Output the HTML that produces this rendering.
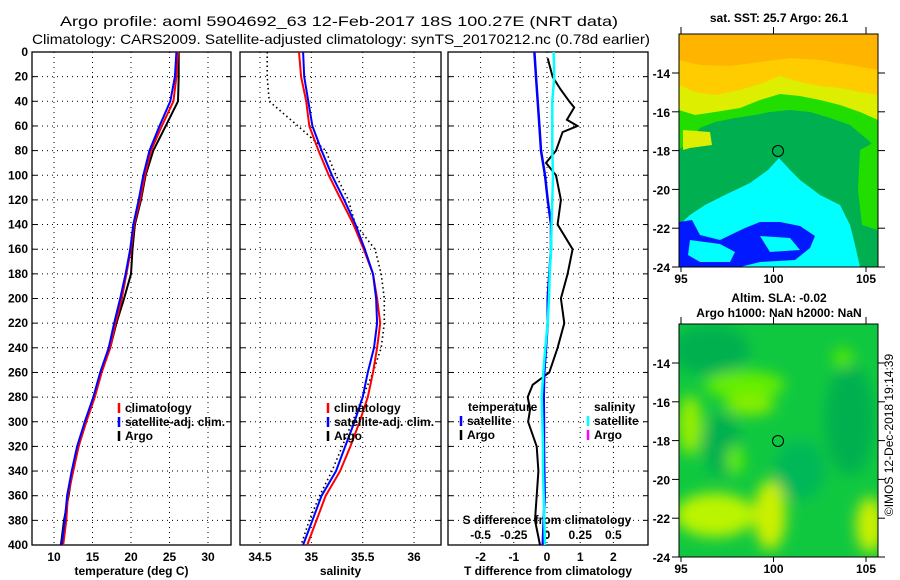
<!DOCTYPE html>
<html><head><meta charset="utf-8"><style>
body{margin:0;background:#fff;overflow:hidden}
svg{display:block;font-family:"Liberation Sans",Arial,sans-serif}
.t{font-size:12px;font-weight:bold;fill:#000}
</style></head><body>
<svg id="c" width="900" height="580" viewBox="0 0 900 580">
<defs>
<filter id="bl" x="-20%" y="-20%" width="140%" height="140%"><feGaussianBlur stdDeviation="7"/></filter>
<clipPath id="m1c"><rect x="679" y="34" width="199" height="233"/></clipPath>
<clipPath id="m2c"><rect x="679" y="324" width="199" height="233"/></clipPath>
</defs>
<text x="60" y="26" font-size="14" textLength="558" lengthAdjust="spacingAndGlyphs">Argo profile: aoml 5904692_63 12-Feb-2017 18S 100.27E (NRT data)</text>
<text x="32" y="44" font-size="14" textLength="618" lengthAdjust="spacingAndGlyphs">Climatology: CARS2009. Satellite-adjusted climatology: synTS_20170212.nc (0.78d earlier)</text>
<g id="panels"></g>

<!-- Map 1 -->
<g>
<text x="779" y="22" class="t" text-anchor="middle">sat. SST: 25.7 Argo: 26.1</text>
<g clip-path="url(#m1c)">
<rect x="679" y="34" width="199" height="233" fill="#00b050"/>
<polygon points="679,34 878,34 878,150 868,140 850,125 830,118 810,112 790,110 770,112 755,115 735,118 715,122 700,128 690,140 679,150" fill="#22dd00"/>
<polygon points="679,34 878,34 878,120 860,112 840,105 820,100 800,96 780,94 760,100 740,108 715,112 695,115 679,110" fill="#ddee00"/>
<polygon points="679,34 878,34 878,95 860,92 840,88 820,86 800,82 780,76 760,84 740,90 715,95 695,92 679,85" fill="#ffcc00"/>
<polygon points="679,34 878,34 878,70 850,65 820,60 790,58 760,62 730,66 700,65 679,60" fill="#ffb400"/>
<polygon points="683,130 710,132 712,145 690,148 683,150" fill="#ddee00"/>
<polygon points="860,150 878,140 878,230 862,225 858,190" fill="#22dd00"/>
<polygon points="779,158 790,170 800,180 820,195 840,205 850,225 855,245 860,267 679,267 679,225 690,215 705,205 725,195 750,183 768,170" fill="#00ffff"/>
<polygon points="679,222 692,220 700,235 720,240 745,228 760,222 780,222 800,226 815,236 810,248 795,260 760,262 740,267 679,267" fill="#0000ff" opacity="0.9"/>
<polygon points="690,240 720,244 735,252 730,262 700,262 688,255" fill="#00ffff"/>
<polygon points="760,236 790,238 800,250 770,252" fill="#00ffff"/>
</g>
<rect x="679" y="34" width="199" height="233" fill="none" stroke="#000"/>
<circle cx="778" cy="151" r="5.5" fill="none" stroke="#000"/>
</g>

<!-- Map 2 -->
<g>
<text x="779" y="302" class="t" text-anchor="middle">Altim. SLA: -0.02</text>
<text x="779" y="317" class="t" text-anchor="middle">Argo h1000: NaN h2000: NaN</text>
<g clip-path="url(#m2c)">
<rect x="679" y="324" width="199" height="233" fill="#10c840"/>
<g filter="url(#bl)">
<ellipse cx="710" cy="350" rx="40" ry="25" fill="#00b050"/>
<ellipse cx="722" cy="445" rx="18" ry="32" fill="#00b050"/>
<ellipse cx="850" cy="420" rx="25" ry="55" fill="#00b050"/>
<ellipse cx="800" cy="470" rx="25" ry="30" fill="#00b858"/>
<ellipse cx="745" cy="385" rx="40" ry="14" fill="#66ee00"/>
<ellipse cx="750" cy="405" rx="25" ry="10" fill="#88ee00"/>
<ellipse cx="690" cy="425" rx="12" ry="30" fill="#99ee00"/>
<ellipse cx="715" cy="515" rx="40" ry="22" fill="#bbf400"/>
<ellipse cx="770" cy="515" rx="16" ry="35" fill="#ccf000"/>
<ellipse cx="870" cy="525" rx="14" ry="28" fill="#ccf000"/>
<ellipse cx="843" cy="358" rx="10" ry="10" fill="#55e800"/>
<ellipse cx="735" cy="460" rx="8" ry="15" fill="#66ee00"/>
</g>
</g>
<rect x="679" y="324" width="199" height="233" fill="none" stroke="#000"/>
<circle cx="778" cy="441" r="5.5" fill="none" stroke="#000"/>
</g>
<text transform="translate(893,435) rotate(-90)" text-anchor="middle" font-size="12">©IMOS 12-Dec-2018 19:14:39</text>
<g id="maps-axes"></g>
</svg>
<script>
// ---- data ----
const depths = [0,20,40,60,80,100,120,140,160,180,200,220,240,260,280,300,320,340,360,380,400];
const tempClim = [26.1,25.9,25.5,24.0,22.6,21.8,21.2,20.4,20.0,19.4,18.8,18.0,17.3,16.2,15.3,14.2,13.2,12.5,11.8,11.6,11.2];
const tempSat = [25.9,25.7,25.1,23.7,22.4,21.6,21.0,20.3,19.9,19.3,18.6,17.8,17.1,16.0,15.1,14.0,13.0,12.3,11.7,11.4,11.0];
const tempArgo = [26.2,26.2,26.1,24.5,22.9,21.9,21.3,20.5,20.2,20.0,19.1,18.1,17.3,16.1,15.2,14.0,13.2,12.4,11.9,11.3,10.9];
const salClim = [34.88,34.90,34.95,34.98,35.07,35.17,35.29,35.41,35.51,35.60,35.64,35.67,35.64,35.60,35.55,35.47,35.38,35.28,35.14,35.05,34.96];
const salSat = [34.92,34.93,34.97,35.01,35.10,35.20,35.32,35.43,35.52,35.60,35.63,35.64,35.61,35.55,35.50,35.42,35.33,35.24,35.10,35.01,34.92];
const salArgo = [34.57,34.57,34.59,34.87,35.14,35.24,35.36,35.43,35.62,35.68,35.71,35.71,35.68,35.60,35.50,35.40,35.30,35.20,35.08,34.98,34.90];
const tDiffSat = [-0.38,-0.33,-0.28,-0.23,-0.18,-0.06,0.02,0.12,0.12,0.07,0.02,0.02,-0.03,-0.08,-0.10,-0.09,-0.09,-0.08,-0.07,-0.10,-0.13];
const sDiffSat = [0.05,0.055,0.04,0.04,0.04,0.045,0.04,0.035,0.03,0.02,0.015,0.005,-0.013,-0.028,-0.04,-0.035,-0.03,-0.03,-0.025,-0.02,-0.015];
const argoDiffDepths = [5,20,30,40,45,55,60,65,80,90,100,120,140,160,180,200,220,240,260,270,280,290,300,320,340,360,380,400];
const tDiffArgo = [0.02,0.17,0.4,0.67,0.82,0.6,0.92,0.47,0.27,-0.03,0.27,0.42,0.32,0.77,0.62,0.42,0.52,0.32,0.07,-0.43,-0.58,-0.51,-0.57,-0.31,-0.26,-0.31,-0.36,-0.21];
const depthTicks = [0,20,40,60,80,100,120,140,160,180,200,220,240,260,280,300,320,340,360,380,400];
const tempTicks = [10,15,20,25,30];
const salTicks = [34.5,35,35.5,36];
const tdTicks = [-2,-1,0,1,2];
const sdTicks = [-0.5,-0.25,0,0.25,0.5];
const sdTickLabels = ["-0.5","-0.25","0","0.25","0.5"];
const latTicks = [-14,-16,-18,-20,-22,-24];
const lonTicks = [95,100,105];

const NS = "http://www.w3.org/2000/svg";
const Y0 = 52, Y1 = 545;
const yScale = d => Y0 + (d/400)*(Y1-Y0);
function mk(tag, attrs, parent){const e=document.createElementNS(NS,tag);for(const k in attrs)e.setAttribute(k,attrs[k]);parent.appendChild(e);return e;}
const G = document.getElementById('panels');

function panel(name, x0, x1, xScale, ticks, labels, title, showY){
  const g = mk('g',{},G);
  
  
  depthTicks.forEach(d=>{
    const y=yScale(d);
    const l=mk('line',{x1:x0,x2:x1,y1:y,y2:y,stroke:'#000','stroke-dasharray':'1,4','stroke-width':1},g);
    
    
    mk('line',{x1:x0,x2:x0+5,y1:y,y2:y,stroke:'#000'},g);
    mk('line',{x1:x1-5,x2:x1,y1:y,y2:y,stroke:'#000'},g);
    if(showY){const t=mk('text',{x:28,y:y+4,'text-anchor':'end',class:'t'},g);t.textContent=d;
      
      }
  });
  ticks.forEach((v,i)=>{
    const x=xScale(v);
    const l=mk('line',{x1:x,x2:x,y1:Y0,y2:Y1,stroke:'#000','stroke-dasharray':'1,4'},g);
    
    
    const t=mk('text',{x:x,y:561,'text-anchor':'middle',class:'t'},g);t.textContent=labels[i];
    
    
  });
  const f=mk('rect',{x:x0,y:Y0,width:x1-x0,height:Y1-Y0,fill:'none',stroke:'#000','stroke-width':1.3},g);
  
  
  const tt=mk('text',{x:(x0+x1)/2,y:575,'text-anchor':'middle',class:'t'},g);tt.textContent=title;
  
  
  return g;
}
function line(g, name, xs, ds, xScale, color, w, dash){
  const pts = xs.map((v,i)=>xScale(v).toFixed(1)+','+yScale(ds[i]).toFixed(1)).join(' ');
  const p=mk('polyline',{points:pts,fill:'none',stroke:color,'stroke-width':w},g);
  if(dash)p.setAttribute('stroke-dasharray',dash);
  
  
}
function legend(g, x, y, color, label){
  mk('line',{x1:x,x2:x,y1:y-9,y2:y+1,stroke:color,'stroke-width':2.5},g);
  const t=mk('text',{x:x+6,y:y,class:'t'},g);t.textContent=label;
  
  
}
// Panel 1
const xT = v => 54 + (v-10)*7.7;
const p1 = panel('temperature-panel',32,231,xT,tempTicks,tempTicks.map(String),'temperature (deg C)',true);
line(p1,'temp-argo-line',tempArgo,depths,xT,'#000',2);
line(p1,'temp-climatology-line',tempClim,depths,xT,'#ff0000',2);
line(p1,'temp-satellite-line',tempSat,depths,xT,'#0000ff',2);
legend(p1,119,412,'#ff0000','climatology');
legend(p1,119,426,'#0000ff','satellite-adj. clim.');
legend(p1,119,440,'#000','Argo');
// Panel 2
const xS = v => 260 + (v-34.5)*102.7;
const p2 = panel('salinity-panel',240,441,xS,salTicks,salTicks.map(String),'salinity',false);
line(p2,'sal-argo-line',salArgo,depths,xS,'#000',1.6,'1.5,3');
line(p2,'sal-climatology-line',salClim,depths,xS,'#ff0000',2);
line(p2,'sal-satellite-line',salSat,depths,xS,'#0000ff',2);
legend(p2,328,412,'#ff0000','climatology');
legend(p2,328,426,'#0000ff','satellite-adj. clim.');
legend(p2,328,440,'#000','Argo');
// Panel 3
const xD = v => 547 + v*33.2;
const xSD = v => 547 + v*132.8;
const p3 = panel('difference-panel',448,648,xD,tdTicks,tdTicks.map(String),'T difference from climatology',false);
sdTicks.forEach((v,i)=>{const t=mk('text',{x:xSD(v),y:539,'text-anchor':'middle',class:'t'},p3);t.textContent=sdTickLabels[i];
  
  });
const st=mk('text',{x:547,y:524,'text-anchor':'middle',class:'t'},p3);st.textContent='S difference from climatology';


line(p3,'t-diff-argo-line',tDiffArgo,argoDiffDepths,xD,'#000',2);
line(p3,'t-diff-satellite-line',tDiffSat,depths,xD,'#0000ff',2.5);
line(p3,'s-diff-satellite-line',sDiffSat,depths,xSD,'#00ffff',2.5);
const lt=mk('text',{x:468,y:411,class:'t'},p3);lt.textContent='temperature';


const ls=mk('text',{x:594,y:411,class:'t'},p3);ls.textContent='salinity';


legend(p3,461,425,'#0000ff','satellite');
legend(p3,461,439,'#000','Argo');
legend(p3,588,425,'#00ffff','satellite');
legend(p3,588,439,'#ff00ff','Argo');
// Map axes
const MA = document.getElementById('maps-axes');
const lonX = v => 681 + (v-95)*18.5;
[[34,267],[324,557]].forEach(([top,bot],k)=>{
  const latY = v => bot - (v+24)*19.4;
  latTicks.forEach(v=>{const y=latY(v);
    mk('line',{x1:672,x2:679,y1:y,y2:y,stroke:'#000'},MA);
    mk('line',{x1:878,x2:885,y1:y,y2:y,stroke:'#000'},MA);
    const t=mk('text',{x:670,y:y+5,'text-anchor':'end',class:'t','font-size':13},MA);t.textContent=v;
    
    });
  lonTicks.forEach(v=>{const x=lonX(v);
    mk('line',{x1:x,x2:x,y1:top-7,y2:top,stroke:'#000'},MA);
    mk('line',{x1:x,x2:x,y1:bot,y2:bot+5,stroke:'#000'},MA);
    const t=mk('text',{x:x,y:bot+16,'text-anchor':'middle',class:'t','font-size':13},MA);t.textContent=v;
    
    });
});
</script>
</body></html>
